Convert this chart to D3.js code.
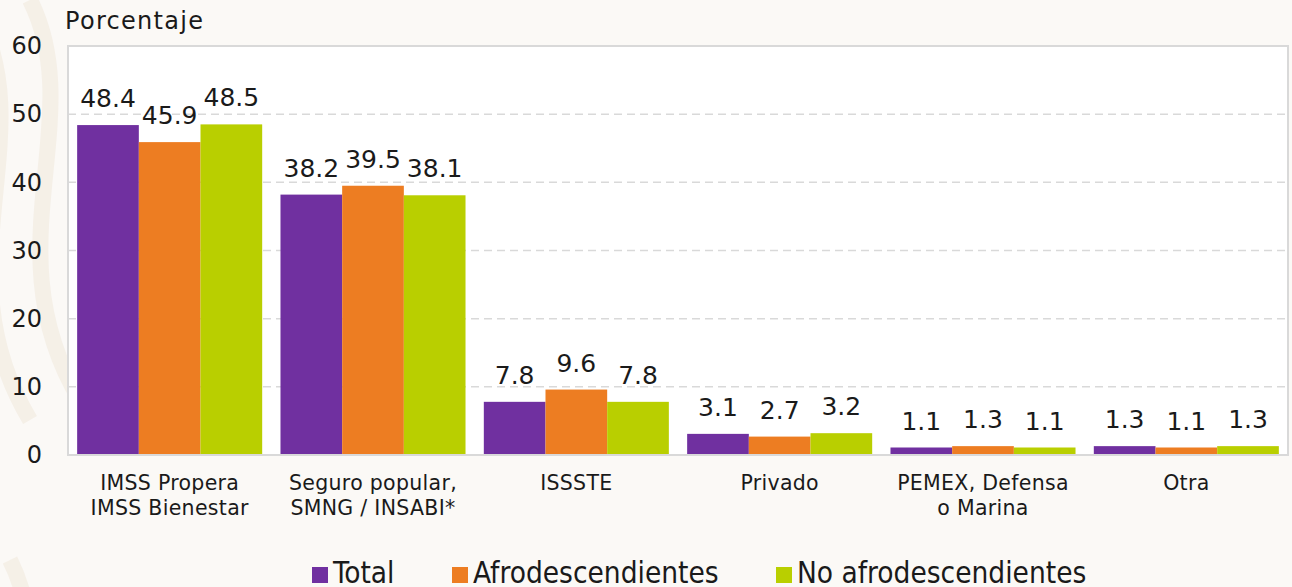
<!DOCTYPE html>
<html><head><meta charset="utf-8">
<script src="https://cdn.jsdelivr.net/npm/d3@7"></script>
<style>body{margin:0;background:#fbf9f6;}svg{display:block;}</style>
</head><body><svg id="c" width="1292" height="587"></svg>
<script>
const categories = [["IMSS Propera","IMSS Bienestar"],["Seguro popular,","SMNG / INSABI*"],["ISSSTE"],["Privado"],["PEMEX, Defensa","o Marina"],["Otra"]];
const seriesNames = ["Total","Afrodescendientes","No afrodescendientes"];
const totalVals = [48.4, 38.2, 7.8, 3.1, 1.1, 1.3];
const afroVals = [45.9, 39.5, 9.6, 2.7, 1.3, 1.1];
const noAfroVals = [48.5, 38.1, 7.8, 3.2, 1.1, 1.3];
const yTicks = [0,10,20,30,40,50,60];
const colors = ["#7030a0","#ed7d22","#b9cf00"];

const series = [totalVals, afroVals, noAfroVals];
const svg = d3.select("#c");
const font = "'DejaVu Sans', sans-serif";
const m = {l:68, r:1288, t:46, b:455};

// faint watermark shapes
const wm = svg.append("g").attr("fill","none").attr("stroke","#f4eee4").attr("stroke-width",16).attr("opacity",0.8);
[[-20,20],[30,0],[10,560]].forEach(([x,y],i)=>{
  wm.append("path").attr("d",`M${x},${y} C${x+60},${y+120} ${x-40},${y+250} ${x+50},${y+400}`);
});

svg.append("rect").attr("x",m.l).attr("y",m.t).attr("width",m.r-m.l).attr("height",m.b-m.t)
  .attr("fill","#ffffff").attr("stroke","#d9d9d9").attr("stroke-width",2);

const x0 = d3.scaleBand().domain(d3.range(categories.length)).range([m.l,m.r]).paddingInner(0.09).paddingOuter(0.045);
const x1 = d3.scaleBand().domain(d3.range(3)).range([0,x0.bandwidth()]);
const y = d3.scaleLinear().domain([0,60]).range([m.b,m.t]);

// gridlines
svg.append("g").selectAll("line").data(yTicks.filter(t=>t>0&&t<60)).join("line")
  .attr("x1",m.l).attr("x2",m.r).attr("y1",d=>y(d)).attr("y2",d=>y(d))
  .attr("stroke","#d9d9d9").attr("stroke-width",1.5).attr("stroke-dasharray","8,5");

// y axis
const ya = svg.append("g").attr("transform",`translate(${m.l},0)`)
  .call(d3.axisLeft(y).tickValues(yTicks).tickSize(0).tickPadding(26));
ya.select(".domain").remove();
ya.selectAll("text").attr("font-family",font).attr("font-size",24).attr("fill","#1a1a1a");

// bars
const g = svg.append("g");
categories.forEach((c,i)=>{
  series.forEach((s,j)=>{
    const xx = x0(i)+x1(j);
    g.append("rect").attr("x",xx).attr("y",y(s[i])).attr("width",x1.bandwidth()).attr("height",y(0)-y(s[i]))
      .attr("fill",colors[j]);
    g.append("text").attr("x",xx+x1.bandwidth()/2).attr("y",y(s[i])-18).attr("text-anchor","middle")
      .attr("font-family",font).attr("font-size",25).attr("fill","#1a1a1a").text(s[i].toFixed(1));
  });
});

// bottom axis line
svg.append("line").attr("x1",m.l).attr("x2",m.r).attr("y1",m.b).attr("y2",m.b).attr("stroke","#d9d9d9").attr("stroke-width",2);

// category labels
categories.forEach((c,i)=>{
  const t = svg.append("text").attr("text-anchor","middle").attr("font-family",font).attr("font-size",20.5).attr("letter-spacing",0.3).attr("fill","#1a1a1a");
  c.forEach((line,k)=>t.append("tspan").attr("x",x0(i)+x0.bandwidth()/2).attr("y",490+k*25).text(line));
});

// y title
svg.append("text").attr("x",65).attr("y",29).attr("font-family",font).attr("font-size",24).attr("letter-spacing",1.3).attr("fill","#1a1a1a").text("Porcentaje");

// legend
const legX = [312,452,776];
const lfont = "'Liberation Sans Narrow','DejaVu Sans Condensed','Roboto Condensed',sans-serif";
seriesNames.forEach((n,j)=>{
  svg.append("rect").attr("x",legX[j]).attr("y",567).attr("width",16).attr("height",16).attr("fill",colors[j]);
  svg.append("text").attr("x",legX[j]+21).attr("y",583).attr("font-family",lfont).attr("font-size",29.5).attr("fill","#1a1a1a").text(n);
});
</script></body></html>
